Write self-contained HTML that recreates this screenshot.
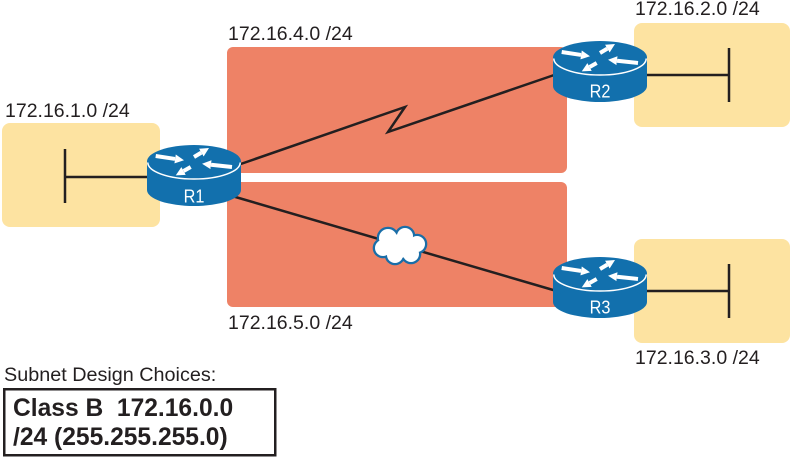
<!DOCTYPE html>
<html><head><meta charset="utf-8"><style>
html,body{margin:0;padding:0;background:#fff;}
svg{display:block;}
text{font-family:"Liberation Sans",Arial,sans-serif;}
</style></head><body>
<svg width="791" height="458" viewBox="0 0 791 458" xmlns="http://www.w3.org/2000/svg">
<defs>
<marker id="ah" viewBox="0 0 10 10" refX="0" refY="5" markerWidth="9" markerHeight="10" markerUnits="userSpaceOnUse" orient="auto">
<path d="M0,0 L10,5 L0,10 z" fill="#fff"/>
</marker>
<g id="rt">
<rect x="0" y="16.5" width="94" height="28.5" fill="#1270ad"/>
<ellipse cx="47" cy="45" rx="47" ry="16" fill="#1270ad"/>
<ellipse cx="47" cy="16.5" rx="47" ry="16.5" fill="#1270ad"/>
<path d="M0.8,17.5 A46.2,16.5 0 0 0 93.2,17.5" fill="none" stroke="#fff" stroke-width="1.5"/>
<g stroke="#fff" stroke-width="4" fill="none" marker-end="url(#ah)">
<line x1="8.7" y1="11" x2="28.1" y2="13.95"/>
<line x1="47" y1="12" x2="54.3" y2="7.6"/>
<line x1="85" y1="22" x2="64" y2="19.7"/>
<line x1="43.7" y1="22" x2="36.6" y2="26"/>
</g>
</g>
</defs>

<!-- subnet areas -->
<rect x="2" y="123" width="158" height="104" rx="8" fill="#fde3a1"/>
<rect x="634" y="23" width="156" height="104" rx="8" fill="#fde3a1"/>
<rect x="634" y="239" width="156" height="104" rx="8" fill="#fde3a1"/>
<rect x="227" y="47" width="340" height="126" rx="6" fill="#ee8266"/>
<rect x="227" y="182" width="340" height="125" rx="6" fill="#ee8266"/>

<!-- LAN lines -->
<g stroke="#231f20" stroke-width="2.5" fill="none">
<line x1="65" y1="149" x2="65" y2="203"/>
<line x1="65" y1="177" x2="160" y2="177"/>
<line x1="640" y1="75" x2="729" y2="75"/>
<line x1="729" y1="48" x2="729" y2="102"/>
<line x1="640" y1="291" x2="729" y2="291"/>
<line x1="729" y1="264" x2="729" y2="318"/>
<polyline points="232,167 405,107 388,132 560,73"/>
<line x1="232" y1="196" x2="560" y2="292"/>
</g>

<!-- cloud -->
<g fill="#1a6ea8">
<circle cx="388" cy="238" r="11.3"/>
<circle cx="405" cy="236" r="10.3"/>
<circle cx="417" cy="244" r="10.3"/>
<circle cx="411" cy="254" r="10.3"/>
<circle cx="395" cy="255" r="10.3"/>
<circle cx="383" cy="248" r="10.3"/>
</g>
<g fill="#fff">
<circle cx="388" cy="238" r="9"/>
<circle cx="405" cy="236" r="8"/>
<circle cx="417" cy="244" r="8"/>
<circle cx="411" cy="254" r="8"/>
<circle cx="395" cy="255" r="8"/>
<circle cx="383" cy="248" r="8"/>
<circle cx="400" cy="246" r="12"/>
</g>

<!-- routers -->
<g transform="translate(147,145)"><use href="#rt"/><text transform="translate(47,57.5) scale(0.88,1)" font-size="18.5" fill="#fff" text-anchor="middle">R1</text></g>
<g transform="translate(553,41)"><use href="#rt"/><text transform="translate(47,56.5) scale(0.88,1)" font-size="18.5" fill="#fff" text-anchor="middle">R2</text></g>
<g transform="translate(553,257)"><use href="#rt"/><text transform="translate(47,56.5) scale(0.88,1)" font-size="18.5" fill="#fff" text-anchor="middle">R3</text></g>

<!-- labels -->
<g font-size="19.5" fill="#231f20">
<text x="5" y="117">172.16.1.0 /24</text>
<text x="228" y="40">172.16.4.0 /24</text>
<text x="635" y="15">172.16.2.0 /24</text>
<text x="228" y="329">172.16.5.0 /24</text>
<text x="635" y="364">172.16.3.0 /24</text>
<text x="4" y="381" font-size="19.8">Subnet Design Choices:</text>
</g>

<rect x="4.25" y="389.25" width="271" height="66" fill="#fff" stroke="#231f20" stroke-width="2.5"/>
<g font-size="24.6" font-weight="bold" fill="#231f20">
<text x="13" y="416" xml:space="preserve">Class B  172.16.0.0</text>
<text x="13" y="445">/24 (255.255.255.0)</text>
</g>
</svg>
</body></html>
